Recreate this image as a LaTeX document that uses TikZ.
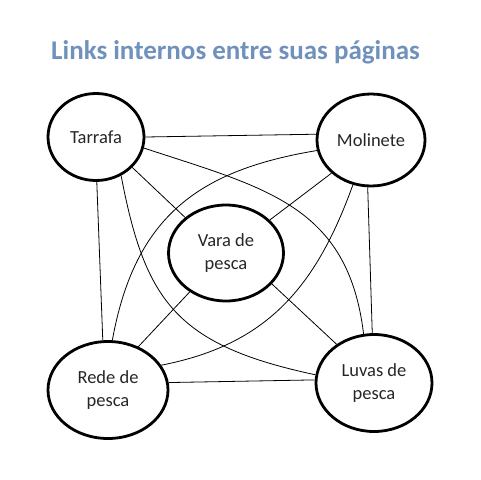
\documentclass[tikz,border=0pt]{standalone}
\usepackage{fontspec}
\setmainfont{Carlito}
\usetikzlibrary{shapes.geometric}
\definecolor{titleblue}{RGB}{112,145,188}
\begin{document}
\begin{tikzpicture}[x=1pt,y=-1pt,
  bubble/.style={ellipse,draw=black,line width=2.8pt,inner sep=0pt,align=center,
    font=\fontsize{18.5}{23}\selectfont,text=black!85},
  link/.style={draw=black,line width=0.8pt}]
\path[use as bounding box] (0,0) rectangle (481,479);
\node[font=\fontsize{27}{32}\selectfont\bfseries,text=titleblue,anchor=base] (title) at (235.5,59) {Links internos entre suas páginas};
\node[bubble,minimum width=96pt,minimum height=87pt] (T) at (96,137) {Tarrafa};
\node[bubble,minimum width=108pt,minimum height=92pt] (M) at (371,140) {Molinete};
\node[bubble,minimum width=115pt,minimum height=96pt] (V) at (226,253) {Vara de\\pesca};
\node[bubble,minimum width=120pt,minimum height=97pt] (R) at (108,390) {Rede de\\pesca};
\node[bubble,minimum width=116pt,minimum height=97pt] (L) at (374,383) {Luvas de\\pesca};
% straight links
\draw[link] (T.0) -- (M.174);
\draw[link] (T.-89) -- (R.96);
\draw[link] (T.-40) -- (V.139);
\draw[link] (M.220) -- (V.37);
\draw[link] (M.-94) -- (L.92);
\draw[link] (V.227) -- (R.55);
\draw[link] (V.-34) -- (L.134);
\draw[link] (R.7) -- (L.177);
% curved links
\draw[link] (T.-57) .. controls (145,300) and (175,345) .. (L.172);
\draw[link] (T.-13) .. controls (265,188) and (348,205) .. (L.102);
\draw[link] (M.191) .. controls (200,170) and (135,215) .. (R.85);
\draw[link] (M.-112) .. controls (315,290) and (265,345) .. (R.25);
\end{tikzpicture}
\end{document}
